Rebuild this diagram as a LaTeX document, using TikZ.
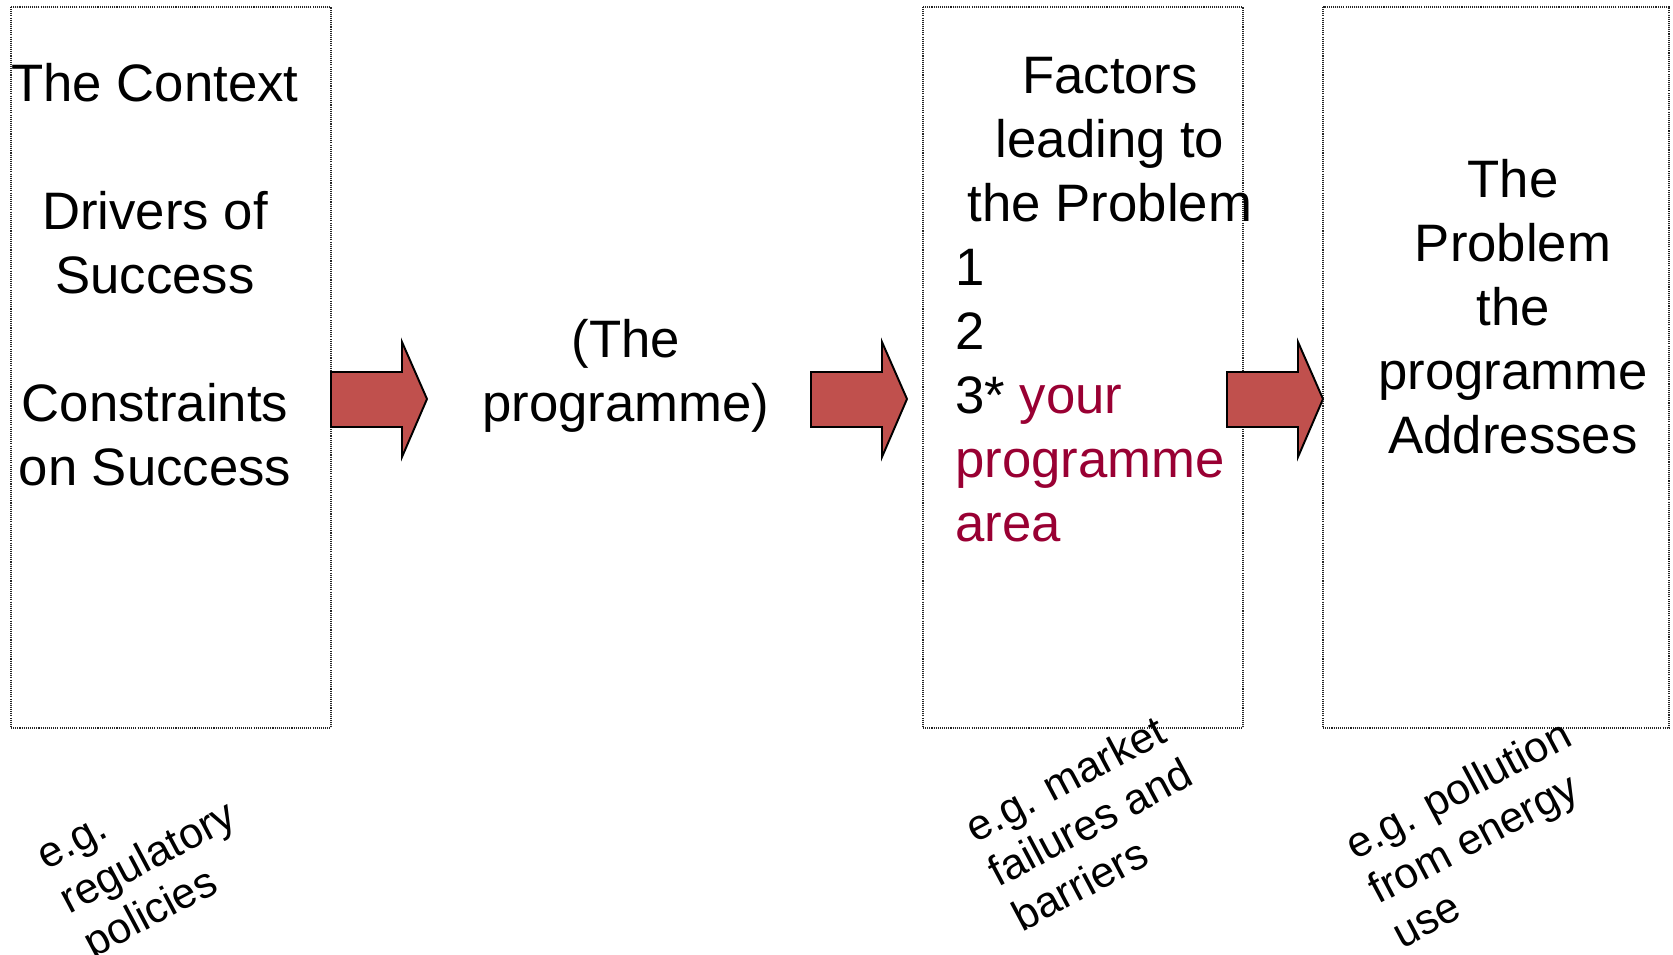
\documentclass[tikz,border=0pt]{standalone}
\usepackage{fontspec}
\setmainfont{Liberation Sans}
\definecolor{arrowred}{RGB}{192,80,77}
\definecolor{areared}{RGB}{153,0,51}
\tikzset{
	framebox/.style={draw=black!85, line width=0.6pt, dash pattern=on 0.6pt off 0.6pt},
	blockarrow/.style={fill=arrowred, draw=black, line width=1.1pt, line join=miter},
	bigtext/.style={font=\fontsize{30}{36.4}\selectfont, align=center, inner sep=0pt},
	notetext/.style={font=\fontsize{24.5}{28.5}\selectfont, align=left, inner sep=0pt, rotate=28},
}
\begin{document}
\begin{tikzpicture}[x=0.02cm, y=-0.02cm]
	\useasboundingbox (0,0) rectangle (1673,955);
	% frames
	\draw[framebox] (11,7) rectangle (331,728);
	\draw[framebox] (923,7) rectangle (1243,728);
	\draw[framebox] (1323,7) rectangle (1669,728);
	% block arrows
	\foreach \ax in {331,811,1227}{
		\draw[blockarrow] (\ax,372) -- (\ax+71,372) -- (\ax+71,342) -- (\ax+96,399)
			-- (\ax+71,457) -- (\ax+71,427) -- (\ax,427) -- cycle;
	}
	% texts in the frames
	\node[bigtext] (context) at (155,275) {The Context\\[36.4pt]Drivers of\\Success\\[36.4pt]Constraints\\on Success};
	\node[bigtext] (programme) at (626,376) {(The\\programme)};
	\node[bigtext] (factors) at (1110,140) {Factors\\leading to\\the Problem};
	\node[bigtext, align=left, anchor=west] (factorlist) at (955,396)
		{1\\2\\3* \textcolor{areared}{your}\\\textcolor{areared}{programme}\\\textcolor{areared}{area}};
	\node[bigtext] (problem) at (1513,307) {The\\Problem\\the\\programme\\Addresses};
	% examples below
	\node[notetext] (egcontext) at (151,863) {e.g.\\regulatory\\policies};
	\node[notetext] (egfactors) at (1090,822) {e.g. market\\failures and\\barriers};
	\node[notetext] (egproblem) at (1481,833) {e.g. pollution\\from energy\\use};
\end{tikzpicture}
\end{document}
